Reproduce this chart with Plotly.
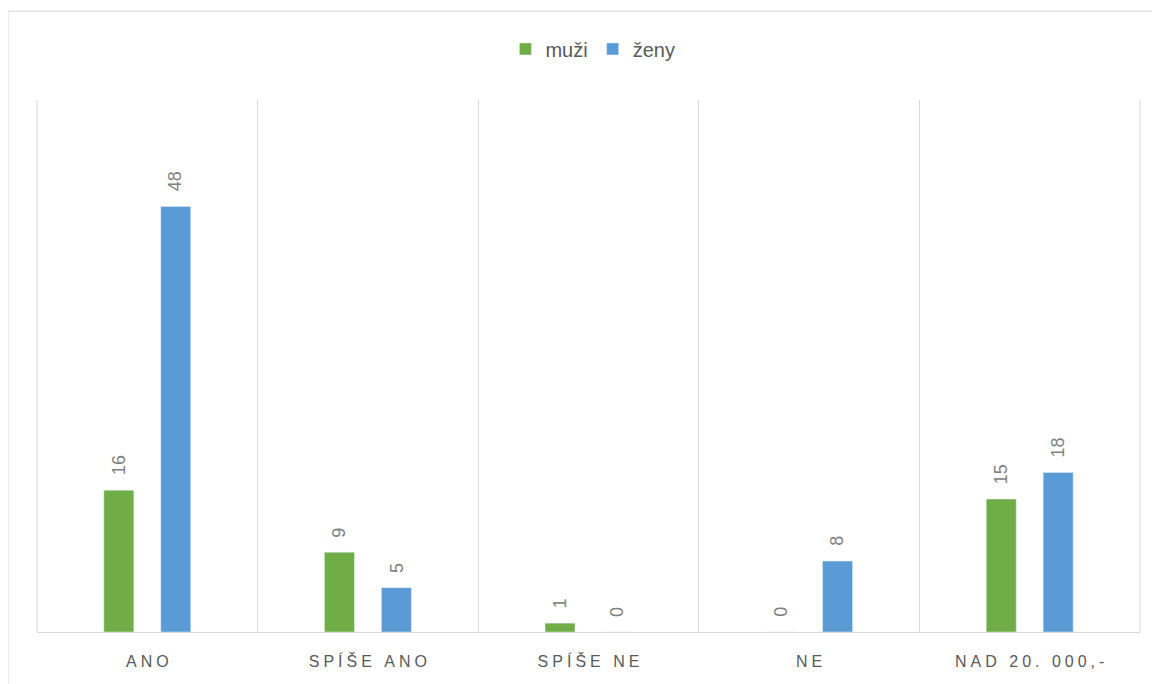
import plotly.graph_objects as go

categories = ["ANO", "SPÍŠE ANO", "SPÍŠE NE", "NE", "NAD 20. 000,-"]
muzi = [16, 9, 1, 0, 15]
zeny = [48, 5, 0, 8, 18]

SP = "\u2005"
def spaced(s):
    return SP.join(list(s))

labels = [spaced(c) for c in categories]

BAR_W = 0.136
HALF_GAP = 0.129
series = [("muži", muzi, "#70AD47", -HALF_GAP), ("ženy", zeny, "#5B9BD5", HALF_GAP)]

fig = go.Figure()
annotations = []
for name, vals, color, center in series:
    fig.add_trace(go.Bar(
        name=name, x=labels, y=vals, marker_color=color,
        width=BAR_W, offset=center - BAR_W / 2,
    ))
    for i, v in enumerate(vals):
        annotations.append(dict(
            x=i + center, y=v, xref="x", yref="y", text=str(v), showarrow=False,
            textangle=-90, yanchor="bottom", xanchor="center", yshift=13,
            font=dict(size=18, color="#808080", family="Liberation Sans, Arial, sans-serif"),
        ))

grid = dict(color="#D9D9D9", width=1)
fig.update_layout(
    width=1152, height=676,
    margin=dict(l=29, r=20, t=92, b=52),
    paper_bgcolor="white", plot_bgcolor="white",
    barmode="overlay",
    font=dict(family="Liberation Sans, Arial, sans-serif", color="#595959"),
    showlegend=True,
    legend=dict(orientation="h", x=0.504, xanchor="center", y=1.096, yanchor="middle",
                font=dict(size=20, color="#595959"), itemwidth=30, traceorder="normal"),
    xaxis=dict(
        type="category", categoryorder="array", categoryarray=labels, range=[-0.5, 4.5],
        tickson="boundaries", showgrid=True, gridcolor="#D9D9D9", gridwidth=1,
        showline=True, linecolor="#D9D9D9", linewidth=1, ticks="",
        tickfont=dict(size=16, color="#595959"), ticklabelstandoff=15,
    ),
    yaxis=dict(range=[0, 60], showgrid=False, showticklabels=False, zeroline=False, showline=False),
    annotations=annotations,
    shapes=[
        dict(type="rect", xref="paper", yref="paper", x0=-0.0263, x1=1.03, y0=-0.2, y1=1.167,
             line=grid, fillcolor="rgba(0,0,0,0)", layer="below"),
        dict(type="line", xref="paper", yref="paper", x0=0, x1=0, y0=0, y1=1, line=grid, layer="below"),
        dict(type="line", xref="paper", yref="paper", x0=1, x1=1, y0=0, y1=1, line=grid, layer="below"),
    ],
)

fig.write_html("out.html")
